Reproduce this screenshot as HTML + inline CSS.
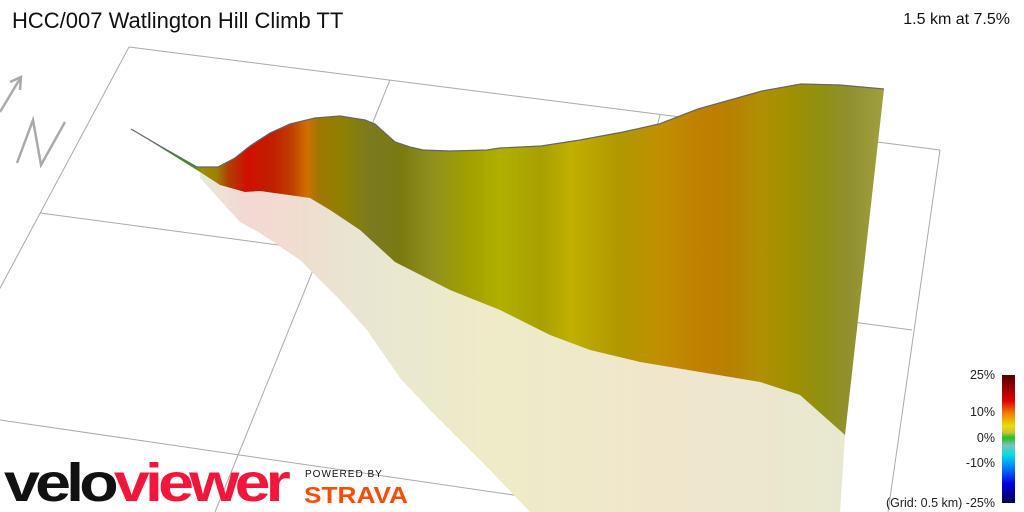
<!DOCTYPE html>
<html><head><style>
body{margin:0;background:#fff;}
svg{display:block;}
</style></head><body>
<svg width="1024" height="512" viewBox="0 0 1024 512" xmlns="http://www.w3.org/2000/svg">
<defs>
<linearGradient id="wall" gradientUnits="userSpaceOnUse" x1="130" y1="0" x2="884" y2="0">
<stop offset="0" stop-color="#3a8a2a"/>
<stop offset="0.085" stop-color="#4a9030"/>
<stop offset="0.095" stop-color="#9a9000"/>
<stop offset="0.115" stop-color="#a08000"/>
<stop offset="0.13" stop-color="#b04000"/>
<stop offset="0.155" stop-color="#d01000"/>
<stop offset="0.19" stop-color="#c02000"/>
<stop offset="0.215" stop-color="#c04000"/>
<stop offset="0.235" stop-color="#d07000"/>
<stop offset="0.25" stop-color="#a07800"/>
<stop offset="0.28" stop-color="#908000"/>
<stop offset="0.32" stop-color="#7a7a20"/>
<stop offset="0.36" stop-color="#7a7a10"/>
<stop offset="0.4" stop-color="#909020"/>
<stop offset="0.45" stop-color="#a0a000"/>
<stop offset="0.49" stop-color="#b0b000"/>
<stop offset="0.545" stop-color="#a8a000"/>
<stop offset="0.585" stop-color="#c0b000"/>
<stop offset="0.65" stop-color="#b09800"/>
<stop offset="0.7" stop-color="#c09000"/>
<stop offset="0.756" stop-color="#c08000"/>
<stop offset="0.796" stop-color="#b88000"/>
<stop offset="0.836" stop-color="#b09000"/>
<stop offset="0.875" stop-color="#a09000"/>
<stop offset="0.915" stop-color="#909010"/>
<stop offset="0.955" stop-color="#909030"/>
<stop offset="1" stop-color="#a0a040"/>
</linearGradient>
<linearGradient id="shadow" gradientUnits="userSpaceOnUse" x1="200" y1="0" x2="845" y2="0">
<stop offset="0" stop-color="#e8ead8"/>
<stop offset="0.07" stop-color="#f3d8d4"/>
<stop offset="0.15" stop-color="#f0ddd0"/>
<stop offset="0.25" stop-color="#e8e6d2"/>
<stop offset="0.45" stop-color="#eeecc8"/>
<stop offset="0.7" stop-color="#f0e6cc"/>
<stop offset="1" stop-color="#e8e8d0"/>
</linearGradient>
<linearGradient id="cbar" x1="0" y1="0" x2="0" y2="1">
<stop offset="0" stop-color="#500000"/>
<stop offset="0.2" stop-color="#e00000"/>
<stop offset="0.3" stop-color="#f08000"/>
<stop offset="0.4" stop-color="#e8e000"/>
<stop offset="0.45" stop-color="#c8c040"/>
<stop offset="0.49" stop-color="#20c020"/>
<stop offset="0.55" stop-color="#80c0c0"/>
<stop offset="0.62" stop-color="#00e0e0"/>
<stop offset="0.72" stop-color="#0080ff"/>
<stop offset="0.85" stop-color="#0000e0"/>
<stop offset="1" stop-color="#000050"/>
</linearGradient>
</defs>
<g stroke="#aaa" stroke-width="1" fill="none">
<line x1="129" y1="47" x2="940" y2="150"/>
<line x1="129" y1="47" x2="-86" y2="449"/>
<line x1="40" y1="213" x2="912" y2="330"/>
<line x1="0" y1="420" x2="630" y2="512"/>
<line x1="390" y1="80" x2="215" y2="512"/>
<line x1="660" y1="115" x2="556" y2="512"/>
<line x1="940" y1="150" x2="888" y2="512"/>
</g>
<g stroke="#aaa" stroke-width="2.5" fill="none" stroke-linejoin="miter">
<polyline points="0,112 21,77"/>
<polyline points="10,82 21,77 20,90"/>
<polyline points="17,163 33,120 41,165 65,122"/>
</g>
<polygon fill="url(#shadow)" points="200,172 220,185 245,192 260,191 310,198 330,210 360,230 395,262 450,290 500,310 550,335 590,350 640,362 700,372 760,382 800,395 845,435 840,512 530,512 490,470 460,440 430,410 400,378 367,330 340,300 300,260 260,233 240,222 200,178"/>
<polygon fill="url(#wall)" points="131,129 160,146 197,167 218,167 235,158 250,146 270,133 290,124 315,118 340,116 365,120 375,124 395,142 410,147 423,150 450,151 487,150 500,148 541,146 580,140 623,132 659,124 698,109 730,100 762,91 801,84 840,85 884,89 845,435 800,395 760,382 700,372 640,362 590,350 550,335 500,310 450,290 395,262 360,230 330,210 310,198 260,191 245,192 220,185 200,172 131,129"/>
<polyline fill="none" stroke="#666" stroke-width="1.2" points="131,129 160,146 197,167 218,167 235,158 250,146 270,133 290,124 315,118 340,116 365,120 375,124 395,142 410,147 423,150 450,151 487,150 500,148 541,146 580,140 623,132 659,124 698,109 730,100 762,91 801,84 840,85 884,89"/>
<text x="12" y="28" font-family="Liberation Sans, sans-serif" font-size="22" fill="#111">HCC/007 Watlington Hill Climb TT</text>
<text x="1010" y="24" text-anchor="end" font-family="Liberation Sans, sans-serif" font-size="16" fill="#111">1.5 km at 7.5%</text>
<rect x="1002" y="375" width="13" height="128" fill="url(#cbar)"/>
<g font-family="Liberation Sans, sans-serif" font-size="12.5" fill="#222" text-anchor="end">
<text x="995" y="379">25%</text>
<text x="995" y="416">10%</text>
<text x="995" y="442">0%</text>
<text x="995" y="467">-10%</text>
<text x="995" y="507">(Grid: 0.5 km) -25%</text>
</g>
<text x="4" y="501" font-family="Liberation Sans, sans-serif" font-weight="bold" font-size="54" letter-spacing="-4" textLength="282" lengthAdjust="spacingAndGlyphs"><tspan fill="#111">velo</tspan><tspan fill="#f0163c">viewer</tspan></text>
<text x="305" y="477" font-family="Liberation Sans, sans-serif" font-size="10" letter-spacing="1" fill="#111">POWERED BY</text>
<text x="304" y="503" font-family="Liberation Sans, sans-serif" font-weight="bold" font-size="23" fill="#fc4c02" textLength="104" lengthAdjust="spacingAndGlyphs">STRAVA</text>
</svg>
</body></html>
